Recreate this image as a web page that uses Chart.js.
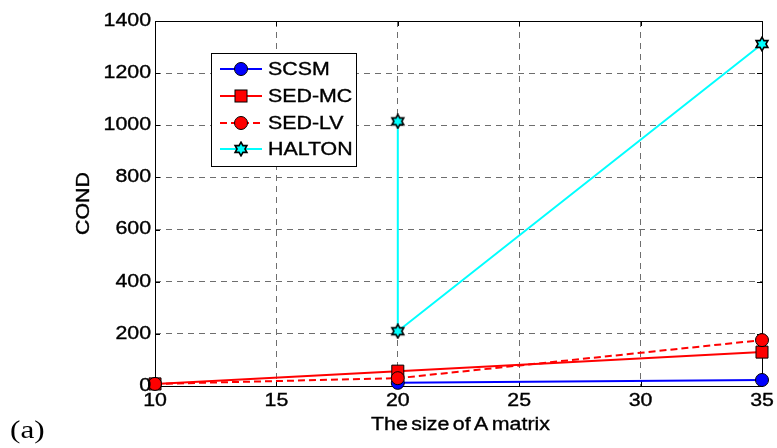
<!DOCTYPE html>
<html><head><meta charset="utf-8">
<script src="https://cdn.jsdelivr.net/npm/chart.js@4/dist/chart.umd.min.js"></script>
<style>html,body{margin:0;padding:0;background:#fff;}#wrap{width:777px;height:448px;position:relative;}</style>
</head><body><div id="wrap"><canvas id="c" width="777" height="448"></canvas></div>
<script>
// ---- data ----
const xTicks = [10, 15, 20, 25, 30, 35];
const yTicks = [0, 200, 400, 600, 800, 1000, 1200, 1400];
const seriesNames = ['SCSM', 'SED-MC', 'SED-LV', 'HALTON'];
const scsmX = [20, 35];
const scsmY = [12, 23];
const sedmcX = [10, 20, 35];
const sedmcY = [8, 57, 130];
const sedlvX = [10, 20, 35];
const sedlvY = [8, 30, 176];
const haltonX = [20, 20, 35];
const haltonY = [1015, 210, 1312];
const xLabel = 'The size of A matrix';
const yLabel = 'COND';
const panelLabel = '(a)';

// ---- styling ----
const SX = 1.22; // horizontal text stretch
const SANS = '17.5px "Liberation Sans", Arial, sans-serif';
function pts(xs, ys) { return xs.map((x, i) => ({ x: x, y: ys[i] })); }

function makeHex(size) {
  const c = document.createElement('canvas');
  c.width = size; c.height = size;
  const g = c.getContext('2d');
  const cx = size / 2, cy = size / 2, R = size / 2 - 1.2, r = R * 0.58;
  g.beginPath();
  for (let i = 0; i < 12; i++) {
    const a = -Math.PI / 2 + i * Math.PI / 6;
    const rr = i % 2 === 0 ? R : r;
    const px = cx + rr * Math.cos(a), py = cy + rr * Math.sin(a);
    if (i === 0) g.moveTo(px, py); else g.lineTo(px, py);
  }
  g.closePath();
  g.fillStyle = '#00FFFF'; g.fill();
  g.lineWidth = 1.6; g.strokeStyle = '#000'; g.stroke();
  return c;
}
const hexImg = makeHex(16);

const styles = [
  { color: '#0000FF', dash: [], point: 'circle', r: 6.5 },
  { color: '#FF0000', dash: [], point: 'rect', r: 8.5 },
  { color: '#FF0000', dash: [7, 4], point: 'circle', r: 6.5 },
  { color: '#00FFFF', dash: [], point: hexImg, r: 8 }
];
const dataPairs = [[scsmX, scsmY], [sedmcX, sedmcY], [sedlvX, sedlvY], [haltonX, haltonY]];

const datasets = seriesNames.map((name, i) => ({
  label: name,
  data: pts(dataPairs[i][0], dataPairs[i][1]),
  showLine: true,
  borderColor: styles[i].color,
  borderWidth: 2,
  borderDash: styles[i].dash,
  pointStyle: styles[i].point,
  pointRadius: styles[i].r,
  pointHoverRadius: styles[i].r,
  pointBackgroundColor: styles[i].color,
  pointBorderColor: '#000',
  pointBorderWidth: 1,
  tension: 0,
  clip: false,
  order: 4 - i
}));

function sText(ctx, text, x, y, align, font, sx, wordSp, bold) {
  ctx.save();
  ctx.font = font;
  ctx.fillStyle = '#000';
  ctx.strokeStyle = '#000';
  ctx.lineWidth = 0.35;
  ctx.textBaseline = 'middle';
  ctx.textAlign = align;
  if (wordSp && 'wordSpacing' in ctx) ctx.wordSpacing = wordSp;
  ctx.translate(x, y);
  ctx.scale(sx, 1);
  ctx.fillText(text, 0, 0);
  if (bold !== false) ctx.strokeText(text, 0, 0);
  ctx.restore();
}

const framePlugin = {
  id: 'frame',
  beforeDatasetsDraw(chart) {
    const { ctx, chartArea: a } = chart;
    ctx.save();
    ctx.strokeStyle = '#000'; ctx.lineWidth = 1;
    ctx.beginPath();
    const xs = chart.scales.x, ys = chart.scales.y;
    xTicks.forEach(v => {
      const px = Math.round(xs.getPixelForValue(v)) + 0.5;
      ctx.moveTo(px, a.bottom); ctx.lineTo(px, a.bottom - 5);
      ctx.moveTo(px, a.top); ctx.lineTo(px, a.top + 5);
    });
    yTicks.forEach(v => {
      const py = Math.round(ys.getPixelForValue(v)) + 0.5;
      ctx.moveTo(a.left, py); ctx.lineTo(a.left + 5, py);
      ctx.moveTo(a.right, py); ctx.lineTo(a.right - 5, py);
    });
    ctx.stroke();
    ctx.strokeRect(Math.round(a.left) + 0.5, Math.round(a.top) + 0.5,
      Math.round(a.right - a.left), Math.round(a.bottom - a.top));
    ctx.restore();
  },
  afterDraw(chart) {
    const { ctx, chartArea: a } = chart;
    const xs = chart.scales.x, ys = chart.scales.y;
    // tick labels
    yTicks.forEach(v => sText(ctx, String(v), a.left - 4, ys.getPixelForValue(v), 'right', SANS, SX));
    xTicks.forEach(v => sText(ctx, String(v), xs.getPixelForValue(v), 401, 'center', SANS, SX));
    // axis titles
    sText(ctx, xLabel, (a.left + a.right) / 2 + 2, 425, 'center', SANS, SX, '-2px');
    ctx.save();
    ctx.translate(84.5, (a.top + a.bottom) / 2);
    ctx.rotate(-Math.PI / 2);
    sText(ctx, yLabel, 0, 0, 'center', SANS, SX);
    ctx.restore();
    sText(ctx, panelLabel, 10, 431, 'left', '26px "Liberation Serif", "Times New Roman", serif', 1.2, null, false);
    // legend
    const L = 211.5, T = 53.5, W = 145, H = 113;
    ctx.save();
    ctx.fillStyle = '#fff'; ctx.fillRect(L, T, W, H);
    ctx.strokeStyle = '#000'; ctx.lineWidth = 1; ctx.strokeRect(L, T, W, H);
    const rows = [69, 96, 123, 149];
    seriesNames.forEach((name, i) => {
      const y = rows[i];
      const st = styles[i];
      ctx.save();
      ctx.strokeStyle = st.color; ctx.lineWidth = 2; ctx.setLineDash(st.dash);
      ctx.beginPath(); ctx.moveTo(220, y); ctx.lineTo(262, y); ctx.stroke();
      ctx.restore();
      ctx.save();
      ctx.fillStyle = st.color; ctx.strokeStyle = '#000'; ctx.lineWidth = 1;
      if (st.point === 'circle') {
        ctx.beginPath(); ctx.arc(241, y, st.r, 0, Math.PI * 2); ctx.fill(); ctx.stroke();
      } else if (st.point === 'rect') {
        const s = st.r * Math.SQRT1_2;
        ctx.fillRect(241 - s, y - s, 2 * s, 2 * s); ctx.strokeRect(241 - s, y - s, 2 * s, 2 * s);
      } else {
        ctx.drawImage(st.point, 241 - 8, y - 8);
      }
      ctx.restore();
      sText(ctx, name, 268, y + 1, 'left', SANS, SX);
    });
    ctx.restore();
  }
};

new Chart(document.getElementById('c'), {
  type: 'scatter',
  data: { datasets: datasets },
  options: {
    responsive: false,
    animation: false,
    events: [],
    layout: { padding: { left: 0, top: 21, right: 15, bottom: 0 } },
    plugins: { legend: { display: false }, tooltip: { enabled: false } },
    scales: {
      x: {
        type: 'linear', min: 10, max: 35,
        afterBuildTicks: s => { s.ticks = xTicks.map(v => ({ value: v })); },
        afterFit: s => { s.height = 62; },
        ticks: { display: false },
        grid: { color: '#6e6e6e', lineWidth: 1, drawTicks: false },
        border: { display: false, dash: [6, 5] }
      },
      y: {
        type: 'linear', min: 0, max: 1400,
        afterBuildTicks: s => { s.ticks = yTicks.map(v => ({ value: v })); },
        afterFit: s => { s.width = 155; },
        ticks: { display: false },
        grid: { color: '#6e6e6e', lineWidth: 1, drawTicks: false },
        border: { display: false, dash: [6, 5] }
      }
    }
  },
  plugins: [framePlugin]
});
</script>
</body></html>
